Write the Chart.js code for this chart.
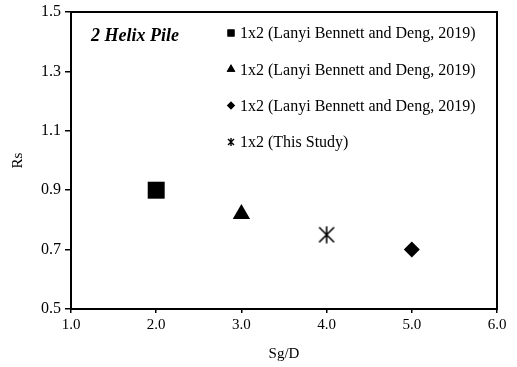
<!DOCTYPE html>
<html>
<head>
<meta charset="utf-8">
<script src="https://cdn.jsdelivr.net/npm/chart.js@4"></script>
<style>
  html, body { margin: 0; padding: 0; background: #fff; }
  #wrap { width: 517px; height: 367px; }
</style>
</head>
<body>
<div id="wrap"><canvas id="chart" width="517" height="367"></canvas></div>
<script>
// ===== Data =====
const seriesLabels = [
  '1x2 (Lanyi Bennett and Deng, 2019)',
  '1x2 (Lanyi Bennett and Deng, 2019)',
  '1x2 (Lanyi Bennett and Deng, 2019)',
  '1x2 (This Study)'
];
const sgOverD = [2.0, 3.0, 5.0, 4.0];
const rsValues = [0.90, 0.82, 0.70, 0.75];
const panelTitle = '2 Helix Pile';
const xTitle = 'Sg/D';
const yTitle = 'Rs';

const FONT = '"Liberation Serif", "Times New Roman", serif';

// asterisk marker (vertical stroke + X), drawn to a small canvas
function makeAsterisk(size, lw) {
  const c = document.createElement('canvas');
  c.width = size; c.height = size;
  const g = c.getContext('2d');
  g.strokeStyle = '#000';
  g.lineWidth = lw;
  const m = size / 2;
  g.beginPath();
  g.moveTo(m, 0.5); g.lineTo(m, size - 0.5);
  g.moveTo(1.5, 1.5); g.lineTo(size - 1.5, size - 1.5);
  g.moveTo(size - 1.5, 1.5); g.lineTo(1.5, size - 1.5);
  g.stroke();
  return c;
}
const bigStar = makeAsterisk(18, 1.6);

const styles = ['rect', 'triangle', 'rectRot', bigStar];
const radii = [12, 10, 8, 10];
const legendStyles = ['rect', 'triangle', 'rectRot', 'star'];
const legendRadii = [5, 5, 4, 4];

const datasets = seriesLabels.map((lab, i) => ({
  label: lab,
  data: [{ x: sgOverD[i], y: rsValues[i] }],
  pointStyle: styles[i],
  pointRadius: radii[i],
  pointHoverRadius: radii[i],
  backgroundColor: '#000',
  borderColor: '#000',
  borderWidth: 0
}));

// Box frame + inset legend + panel title
const decor = {
  id: 'decor',
  afterDraw(chart) {
    const { ctx, chartArea: a } = chart;
    ctx.save();
    ctx.strokeStyle = '#000';
    ctx.lineWidth = 2;
    ctx.strokeRect(a.left, a.top, a.right - a.left, a.bottom - a.top);

    ctx.fillStyle = '#000';
    ctx.font = 'italic bold 18px ' + FONT;
    ctx.textBaseline = 'alphabetic';
    ctx.textAlign = 'left';
    ctx.fillText(panelTitle, 91, 41);

    ctx.font = '16px ' + FONT;
    ctx.textBaseline = 'middle';
    seriesLabels.forEach((lab, i) => {
      const y = 33 + i * 36.3;
      if (legendStyles[i] === 'star') {
        // vertical + X, like the plotted marker
        const r = legendRadii[i];
        ctx.lineWidth = 1.4;
        ctx.beginPath();
        ctx.moveTo(231, y - r); ctx.lineTo(231, y + r);
        ctx.moveTo(231 - r + 1, y - r + 1); ctx.lineTo(231 + r - 1, y + r - 1);
        ctx.moveTo(231 + r - 1, y - r + 1); ctx.lineTo(231 - r + 1, y + r - 1);
        ctx.stroke();
      } else {
        Chart.helpers.drawPoint(ctx, {
          pointStyle: legendStyles[i], radius: legendRadii[i], rotation: 0, borderWidth: 0
        }, 231, y);
        ctx.fill();
      }
      ctx.fillText(lab, 240, y + 1);
    });
    ctx.restore();
  }
};

new Chart(document.getElementById('chart'), {
  type: 'scatter',
  data: { datasets },
  plugins: [decor],
  options: {
    responsive: false,
    animation: false,
    layout: { padding: { top: 0, right: 20, left: 9, bottom: 4 } },
    plugins: { legend: { display: false }, tooltip: { enabled: false } },
    scales: {
      x: {
        min: 1, max: 6,
        ticks: { stepSize: 1, color: '#000', font: { family: FONT, size: 15 }, padding: 3,
                 callback: v => Number(v).toFixed(1), maxRotation: 0 },
        grid: { drawOnChartArea: false, drawTicks: true, tickLength: 4, color: '#000', lineWidth: 1.5 },
        border: { display: true, color: '#000', width: 2 },
        title: { display: true, text: xTitle, color: '#000', font: { family: FONT, size: 15 }, padding: { top: 8, bottom: 0 } }
      },
      y: {
        min: 0.5, max: 1.5,
        ticks: { stepSize: 0.2, color: '#000', font: { family: FONT, size: 16, lineHeight: 0.85 }, padding: 4,
                 callback: v => Number(v).toFixed(1) },
        grid: { drawOnChartArea: false, drawTicks: true, tickLength: 6, color: '#000', lineWidth: 1.5 },
        border: { display: true, color: '#000', width: 2 },
        title: { display: true, text: yTitle, color: '#000', font: { family: FONT, size: 15 }, padding: { top: 0, bottom: 10 } }
      }
    }
  }
});
</script>
</body>
</html>
